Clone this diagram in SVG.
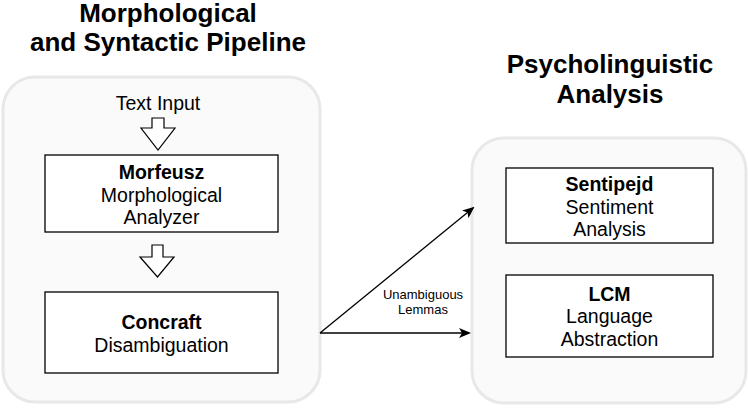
<svg xmlns="http://www.w3.org/2000/svg" width="748" height="414" viewBox="0 0 748 414">
<defs>
<style>
.container{fill:#fafafa;stroke:#e8e8e8;stroke-width:3}
.box{fill:#ffffff;stroke:#000000;stroke-width:1.3}
.title{font-family:"Liberation Sans",Arial,sans-serif;font-size:26px;font-weight:bold;text-anchor:middle;fill:#000}
.t{font-family:"Liberation Sans",Arial,sans-serif;font-size:19.5px;text-anchor:middle;fill:#000}
.b{font-weight:bold}
.lbl{font-family:"Liberation Sans",Arial,sans-serif;font-size:13px;text-anchor:middle;fill:#000}
.hollow{fill:#ffffff;stroke:#000;stroke-width:1.2;stroke-linejoin:miter}
.conn{fill:none;stroke:#000;stroke-width:1.3}
</style>
<marker id="ah" markerWidth="12" markerHeight="10" refX="10" refY="5" orient="auto" markerUnits="userSpaceOnUse">
<path d="M0,0 L12,5 L0,10 L3,5 Z" fill="#000"/>
</marker>
</defs>
<rect width="748" height="414" fill="#ffffff"/>

<g id="pipeline-group">
<rect class="container" x="3" y="77" width="317" height="325" rx="32" ry="32"/>
<text class="title" x="168" y="21.5">Morphological</text>
<text class="title" x="168" y="50.5">and Syntactic Pipeline</text>
</g>

<g id="analysis-group">
<rect class="container" x="472" y="138" width="274" height="265" rx="32" ry="32"/>
<text class="title" x="610" y="73">Psycholinguistic</text>
<text class="title" x="610" y="103">Analysis</text>
</g>

<g id="text-input">
<text class="t" x="158" y="110">Text Input</text>
</g>

<g id="arrow-1">
<path class="hollow" d="M152,118 L164,118 L164,128 L175,128 L158,150 L141,128 L152,128 Z"/>
</g>

<g id="morfeusz">
<rect class="box" x="45" y="155" width="233" height="77"/>
<text class="t b" x="161.5" y="179">Morfeusz</text>
<text class="t" x="161.5" y="202">Morphological</text>
<text class="t" x="161.5" y="224">Analyzer</text>
</g>

<g id="arrow-2">
<path class="hollow" d="M152,245 L163,245 L163,257 L174,257 L157.5,277 L140,257 L152,257 Z"/>
</g>

<g id="concraft">
<rect class="box" x="45" y="292" width="233" height="81"/>
<text class="t b" x="161.5" y="329">Concraft</text>
<text class="t" x="161.5" y="352">Disambiguation</text>
</g>

<g id="sentipejd">
<rect class="box" x="506" y="168" width="207" height="75"/>
<text class="t b" x="609.5" y="191">Sentipejd</text>
<text class="t" x="609.5" y="214">Sentiment</text>
<text class="t" x="609.5" y="236">Analysis</text>
</g>

<g id="lcm">
<rect class="box" x="506" y="275" width="207" height="82"/>
<text class="t b" x="609.5" y="301">LCM</text>
<text class="t" x="609.5" y="323">Language</text>
<text class="t" x="609.5" y="346">Abstraction</text>
</g>

<g id="connectors">
<line class="conn" x1="320" y1="333" x2="473" y2="208" marker-end="url(#ah)"/>
<line class="conn" x1="320" y1="333" x2="469" y2="333" marker-end="url(#ah)"/>
<text class="lbl" x="423" y="299">Unambiguous</text>
<text class="lbl" x="423" y="314">Lemmas</text>
</g>
</svg>
